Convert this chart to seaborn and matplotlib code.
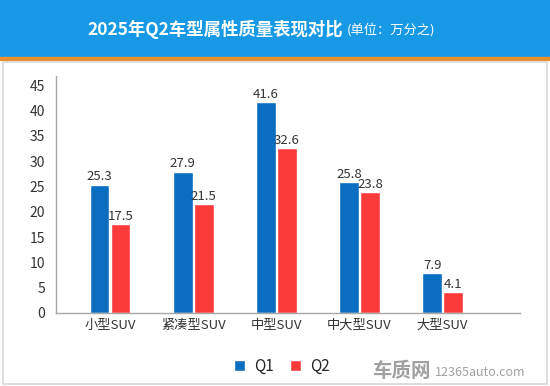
import pandas as pd
import matplotlib.pyplot as plt
import seaborn as sns
from matplotlib.patches import Rectangle

# 数据
categories = ['小型SUV', '紧凑型SUV', '中型SUV', '中大型SUV', '大型SUV']
q1_values = [25.3, 27.9, 41.6, 25.8, 7.9]
q2_values = [17.5, 21.5, 32.6, 23.8, 4.1]
series_names = ['Q1', 'Q2']
yticks = [0, 5, 10, 15, 20, 25, 30, 35, 40, 45]

df = pd.DataFrame({
    '车型': categories * 2,
    '数值': q1_values + q2_values,
    '季度': [series_names[0]] * len(categories) + [series_names[1]] * len(categories),
})

sns.set_style('white')
plt.rcParams['font.family'] = ['Noto Sans CJK SC', 'DejaVu Sans']

fig = plt.figure(figsize=(5.5, 3.86), dpi=100)

# 顶部标题栏和外框
fig.patches.append(Rectangle((0, 1 - 57 / 386), 1, 57 / 386, transform=fig.transFigure,
                             color='#1799E6', zorder=0))
fig.patches.append(Rectangle((0, 1 - 60 / 386), 1, 3 / 386, transform=fig.transFigure,
                             color='#E8902E', zorder=0))
fig.patches.append(Rectangle((3 / 550, 2 / 386), 544 / 550, 322 / 386, transform=fig.transFigure,
                             fill=False, edgecolor='#D8D8D8', linewidth=1.2, zorder=0))

fig.text(343 / 550, 1 - 29 / 386, '2025年Q2车型属性质量表现对比', color='white', fontsize=12.5,
         fontweight='bold', ha='right', va='center')
fig.text(347 / 550, 1 - 30 / 386, '(单位：万分之)', color='white', fontsize=9.5, ha='left', va='center')

ax = fig.add_axes([56 / 550, 1 - 313 / 386, 464 / 550, 237 / 386])
sns.barplot(data=df, x='车型', y='数值', hue='季度', palette=['#0B6DC0', '#FB3A3A'],
            saturation=1, width=0.506, gap=0.06, ax=ax, legend=True)

for container in ax.containers:
    ax.bar_label(container, fmt='%.1f', padding=1, fontsize=9.5, color='#333333')

ax.set_xlim(-0.65, 4.93)
ax.set_ylim(0, 46.8)
ax.set_yticks(yticks)
ax.set_xlabel('')
ax.set_ylabel('')
ax.tick_params(axis='both', length=0, labelcolor='#333333')
ax.tick_params(axis='y', pad=8, labelsize=10)
ax.tick_params(axis='x', pad=4, labelsize=9.5)
for side in ['top', 'right']:
    ax.spines[side].set_visible(False)
for side in ['left', 'bottom']:
    ax.spines[side].set_color('#A6A6A6')
    ax.spines[side].set_linewidth(1)

ax.legend(loc='upper center', bbox_to_anchor=(0.487, -0.13), ncol=2, frameon=False,
          fontsize=11, handlelength=0.7, handleheight=0.7, columnspacing=1.1, handletextpad=0.6)

fig.text(431 / 550, 1 - 371 / 386, '车质网', color='#A0A0A0', fontsize=14, fontweight='bold',
         ha='right', va='center')
fig.text(435 / 550, 1 - 373 / 386, '12365auto.com', color='#A0A0A0', fontsize=9, ha='left', va='center')

plt.savefig('out.png', dpi=100)
